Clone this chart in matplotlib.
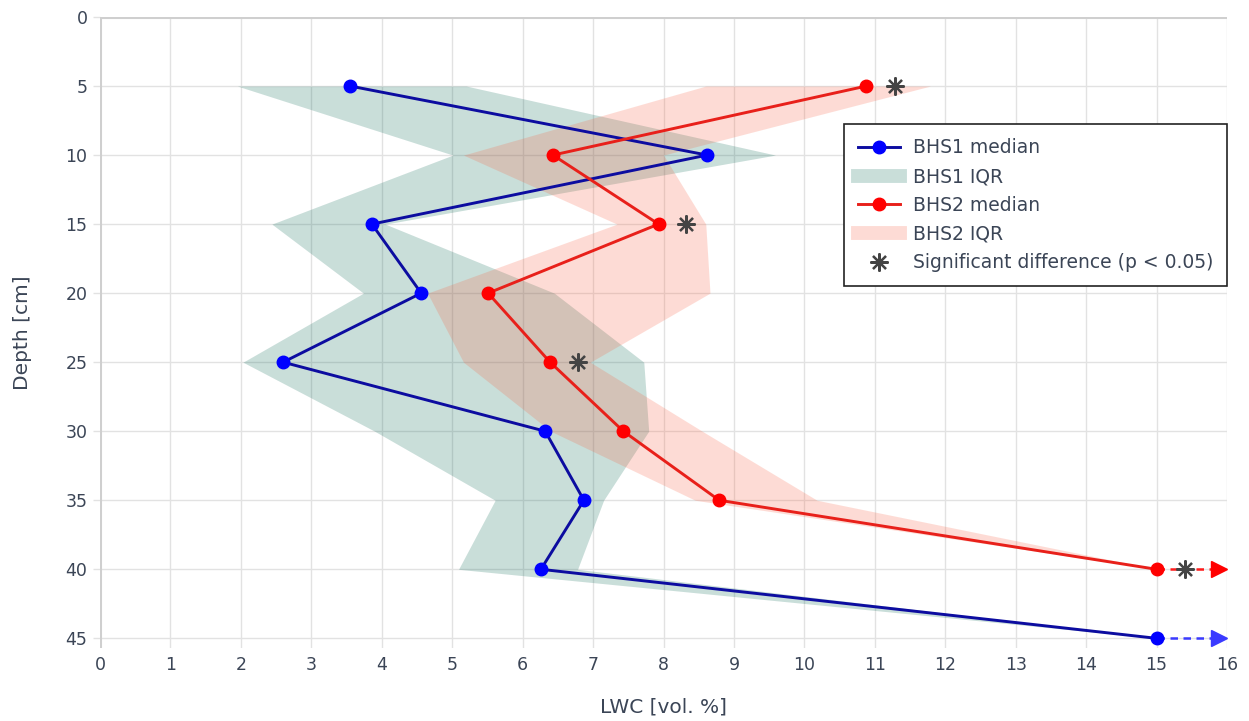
import matplotlib
matplotlib.use("Agg")
import matplotlib.pyplot as plt
from matplotlib.lines import Line2D

# Depth levels (cm)
depth_bhs1 = [5, 10, 15, 20, 25, 30, 35, 40, 45]
depth_bhs2 = [5, 10, 15, 20, 25, 30, 35, 40]

# BHS1 liquid water content (vol. %)
bhs1_median = [3.55, 8.62, 3.86, 4.56, 2.60, 6.32, 6.87, 6.26, 15.0]
bhs1_q1 = [1.95, 5.01, 2.44, 3.74, 2.03, 3.90, 5.61, 5.09, 15.0]
bhs1_q3 = [5.20, 9.59, 4.05, 6.45, 7.72, 7.79, 7.15, 6.78, 15.0]

# BHS2 liquid water content (vol. %)
bhs2_median = [10.88, 6.43, 7.93, 5.51, 6.39, 7.43, 8.79, 15.0]
bhs2_q1 = [8.60, 5.16, 7.34, 4.65, 5.16, 6.40, 8.45, 15.0]
bhs2_q3 = [11.79, 8.00, 8.60, 8.66, 6.96, 8.55, 10.18, 15.0]

# Depths with a significant difference and where the marker sits
sig_depth = [5, 15, 25, 40]
sig_x = [11.28, 8.32, 6.79, 15.40]

# Values beyond the axis range: dashed continuation arrows
over_depth_bhs2 = 40
over_depth_bhs1 = 45
arrow_start = 15.0
arrow_end = 15.88

x_ticks = list(range(0, 17))
y_ticks = list(range(0, 50, 5))

TEXT = "#3b4556"
GRID = "#e2e2e2"
ZERO = "#cfcfcf"

plt.rcParams["font.family"] = ["DejaVu Sans"]

fig = plt.figure(figsize=(12.49, 7.21), dpi=100)
ax = fig.add_axes([100 / 1249, 1 - 648 / 721, 1127 / 1249, 631 / 721])

green_fill = (0 / 255, 100 / 255, 80 / 255, 0.21)
pink_fill = (250 / 255, 95 / 255, 65 / 255, 0.22)

ax.fill_betweenx(depth_bhs1, bhs1_q1, bhs1_q3, color=green_fill, lw=0, zorder=2)
ax.fill_betweenx(depth_bhs2, bhs2_q1, bhs2_q3, color=pink_fill, lw=0, zorder=2)

ax.plot(bhs1_median, depth_bhs1, color="#0c0ca0", lw=2.1, zorder=4)
ax.plot(bhs1_median, depth_bhs1, ls="none", marker="o", ms=9,
        mfc="#0000ff", mec="#0000ff", zorder=5)
ax.plot(bhs2_median, depth_bhs2, color="#e8201a", lw=2.1, zorder=4)
ax.plot(bhs2_median, depth_bhs2, ls="none", marker="o", ms=9,
        mfc="#ff0000", mec="#ff0000", zorder=5)

# Off-scale continuation arrows
ax.plot([arrow_start, arrow_end], [over_depth_bhs2, over_depth_bhs2],
        color="#ff1a1a", lw=1.8, ls=(0, (3, 2.2)), zorder=3)
ax.plot([arrow_end], [over_depth_bhs2], marker=">", ms=11, color="#ff0000",
        ls="none", zorder=5)
ax.plot([arrow_start, arrow_end], [over_depth_bhs1, over_depth_bhs1],
        color="#3a3aff", lw=1.8, ls=(0, (3, 2.2)), zorder=3)
ax.plot([arrow_end], [over_depth_bhs1], marker=">", ms=11, color="#3a3aff",
        ls="none", zorder=5)

# Significance markers
ax.plot(sig_x, sig_depth, ls="none", marker=(8, 2, 0), ms=13, mew=1.6,
        color="#444444", zorder=6)

ax.set_xlim(0, 16)
ax.set_ylim(45.7, 0)
ax.set_xticks(x_ticks)
ax.set_yticks(y_ticks)
ax.grid(True, color=GRID, lw=1.0, zorder=0)
ax.set_axisbelow(True)
for s in ax.spines.values():
    s.set_visible(False)
ax.axhline(0, color=ZERO, lw=2.2, zorder=1)
ax.axvline(0, color=ZERO, lw=2.2, zorder=1)

ax.tick_params(axis="x", length=0, pad=6, labelsize=12.5, labelcolor=TEXT)
ax.tick_params(axis="y", length=5, width=1, color=GRID, pad=4,
               labelsize=12.5, labelcolor=TEXT)

ax.set_xlabel("LWC [vol. %]", fontsize=14.5, color=TEXT, labelpad=17)
ax.set_ylabel("Depth [cm]", fontsize=14.5, color=TEXT, labelpad=24)

handles = [
    Line2D([0], [0], color="#0c0ca0", lw=2.1, marker="o", ms=9,
           mfc="#0000ff", mec="#0000ff"),
    Line2D([0], [0], color=green_fill, lw=10),
    Line2D([0], [0], color="#e8201a", lw=2.1, marker="o", ms=9,
           mfc="#ff0000", mec="#ff0000"),
    Line2D([0], [0], color=pink_fill, lw=10),
    Line2D([0], [0], ls="none", marker=(8, 2, 0), ms=13, mew=1.6,
           color="#444444"),
]
labels = ["BHS1 median", "BHS1 IQR", "BHS2 median", "BHS2 IQR",
          "Significant difference (p < 0.05)"]
leg = ax.legend(handles, labels, loc="upper right", bbox_to_anchor=(1.0, 0.830),
                borderaxespad=0, fontsize=13.5, frameon=True, fancybox=False,
                framealpha=1, edgecolor="#222222", handlelength=2.25,
                handletextpad=0.65, labelspacing=0.52, borderpad=0.75,
                labelcolor=TEXT)
leg.get_frame().set_linewidth(1.2)
leg.set_zorder(10)

fig.savefig("out.png", dpi=100)
